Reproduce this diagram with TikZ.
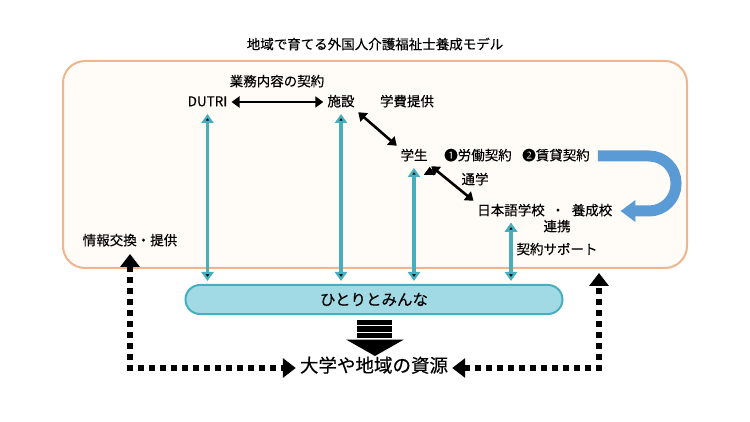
\documentclass[tikz,border=0pt]{standalone}
\usepackage{fontspec}
\setmainfont{Noto Sans CJK JP}[FakeBold=0.4]
\usepackage{xcolor}
\usetikzlibrary{arrows.meta,positioning}

\definecolor{frameorange}{HTML}{F2B48C}
\definecolor{framefill}{HTML}{FFFCF7}
\definecolor{linkcyan}{HTML}{45AFC0}
\definecolor{capfill}{HTML}{A1DAE5}
\definecolor{turnblue}{HTML}{5B9BD5}

\begin{document}
\begin{tikzpicture}[x=1pt,y=-1pt,>={Triangle[length=8pt,width=11pt]},
  txt/.style={inner sep=2pt,text height=11pt,text depth=2.5pt,font=\fontsize{13.5}{16}\selectfont},
  deal/.style={<->,draw=black,line width=2.6pt,shorten <=2pt,shorten >=2pt},
  cyanlink/.style={<->,draw=linkcyan,line width=3.4pt,>={Triangle[length=9pt,width=12pt]},shorten <=3pt,shorten >=3pt},
  infolink/.style={<->,line width=5.5pt,dash pattern=on 5.5pt off 5.5pt,>={Triangle[length=13pt,width=19pt]}},
  uturn/.style={->,draw=turnblue,line width=11pt,rounded corners=27pt,>={Triangle[length=15pt,width=21pt]}},
  frame/.style={draw=frameorange,fill=framefill,line width=2pt,rounded corners=22pt,minimum width=624pt,minimum height=207pt},
  capsule/.style={draw=linkcyan,fill=capfill,line width=2pt,rounded corners=14.5pt,minimum width=377pt,minimum height=29pt,font=\fontsize{15.5}{18}\selectfont}]

    \useasboundingbox (0,0) rectangle (750,422);

    % The frame
	\node [txt] at (375,45) (title) {地域で育てる外国人介護福祉士養成モデル};
	\node [frame] at (375,164.5) (region) {};

	% The parties
	\node [txt] at (277,82) (gyomu) {業務内容の契約};
	\node [txt] at (207.5,102) (dutri) {DUTRI};
	\node [txt] at (341,102) (shisetsu) {施設};
	\node [txt] at (407,102) (gakuhi) {学費提供};
	\node [txt] at (414,156) (gakusei) {学生};
	\node [txt] at (478,156) (roudou) {❶労働契約};
	\node [txt] at (556,156) (chintai) {❷賃貸契約};
	\node [txt] at (475,180) (tsugaku) {通学};
	\node [txt] at (511,211) (nihongo) {日本語学校};
	\node [txt] at (558,211) (nakaten) {・};
	\node [txt] at (592,211) (yoseiko) {養成校};
	\node [txt] at (557,227) (renkei) {連携};
	\node [txt] at (557,250) (support) {契約サポート};
	\node [txt] at (130,241) (info) {情報交換・提供};

	\node [capsule] at (374,299.5) (hitori) {ひとりとみんな};
	\node [txt,font=\fontsize{18.5}{22}\selectfont] at (374,368) (shigen) {大学や地域の資源};

	% Contract edges
	\path[deal]
	(dutri) edge (shisetsu)
	(shisetsu.south east) edge (gakusei.north west)
	(gakusei.south east) edge (nihongo.north west);

	\coordinate (turn) at (676,184);
	\draw[uturn] ([xshift=6pt]chintai.east) -- (chintai.east -| turn)
	  -- (yoseiko.east -| turn) -- ([xshift=6pt]yoseiko.east);

	% Links to the capsule
	\path[cyanlink]
	(dutri.south) edge (dutri.south |- hitori.north)
	(shisetsu.south) edge (shisetsu.south |- hitori.north)
	(gakusei.south) edge (gakusei.south |- hitori.north)
	(nihongo.south) edge (nihongo.south |- hitori.north);

	% Stacked arrow
	\foreach \y in {319.5,326,332.5}
	  \fill (357,\y) rectangle (392,\y+5.5);
	\fill (346,339.5) -- (404,339.5) -- (375,356) -- cycle;

	% Dotted links
	\draw[infolink,shorten <=4pt,shorten >=2pt] (info.south) |- (shigen.west);
	\draw[infolink,shorten <=2pt,shorten >=4pt] (shigen.east) -| ([xshift=224pt]region.south);

\end{tikzpicture}
\end{document}
